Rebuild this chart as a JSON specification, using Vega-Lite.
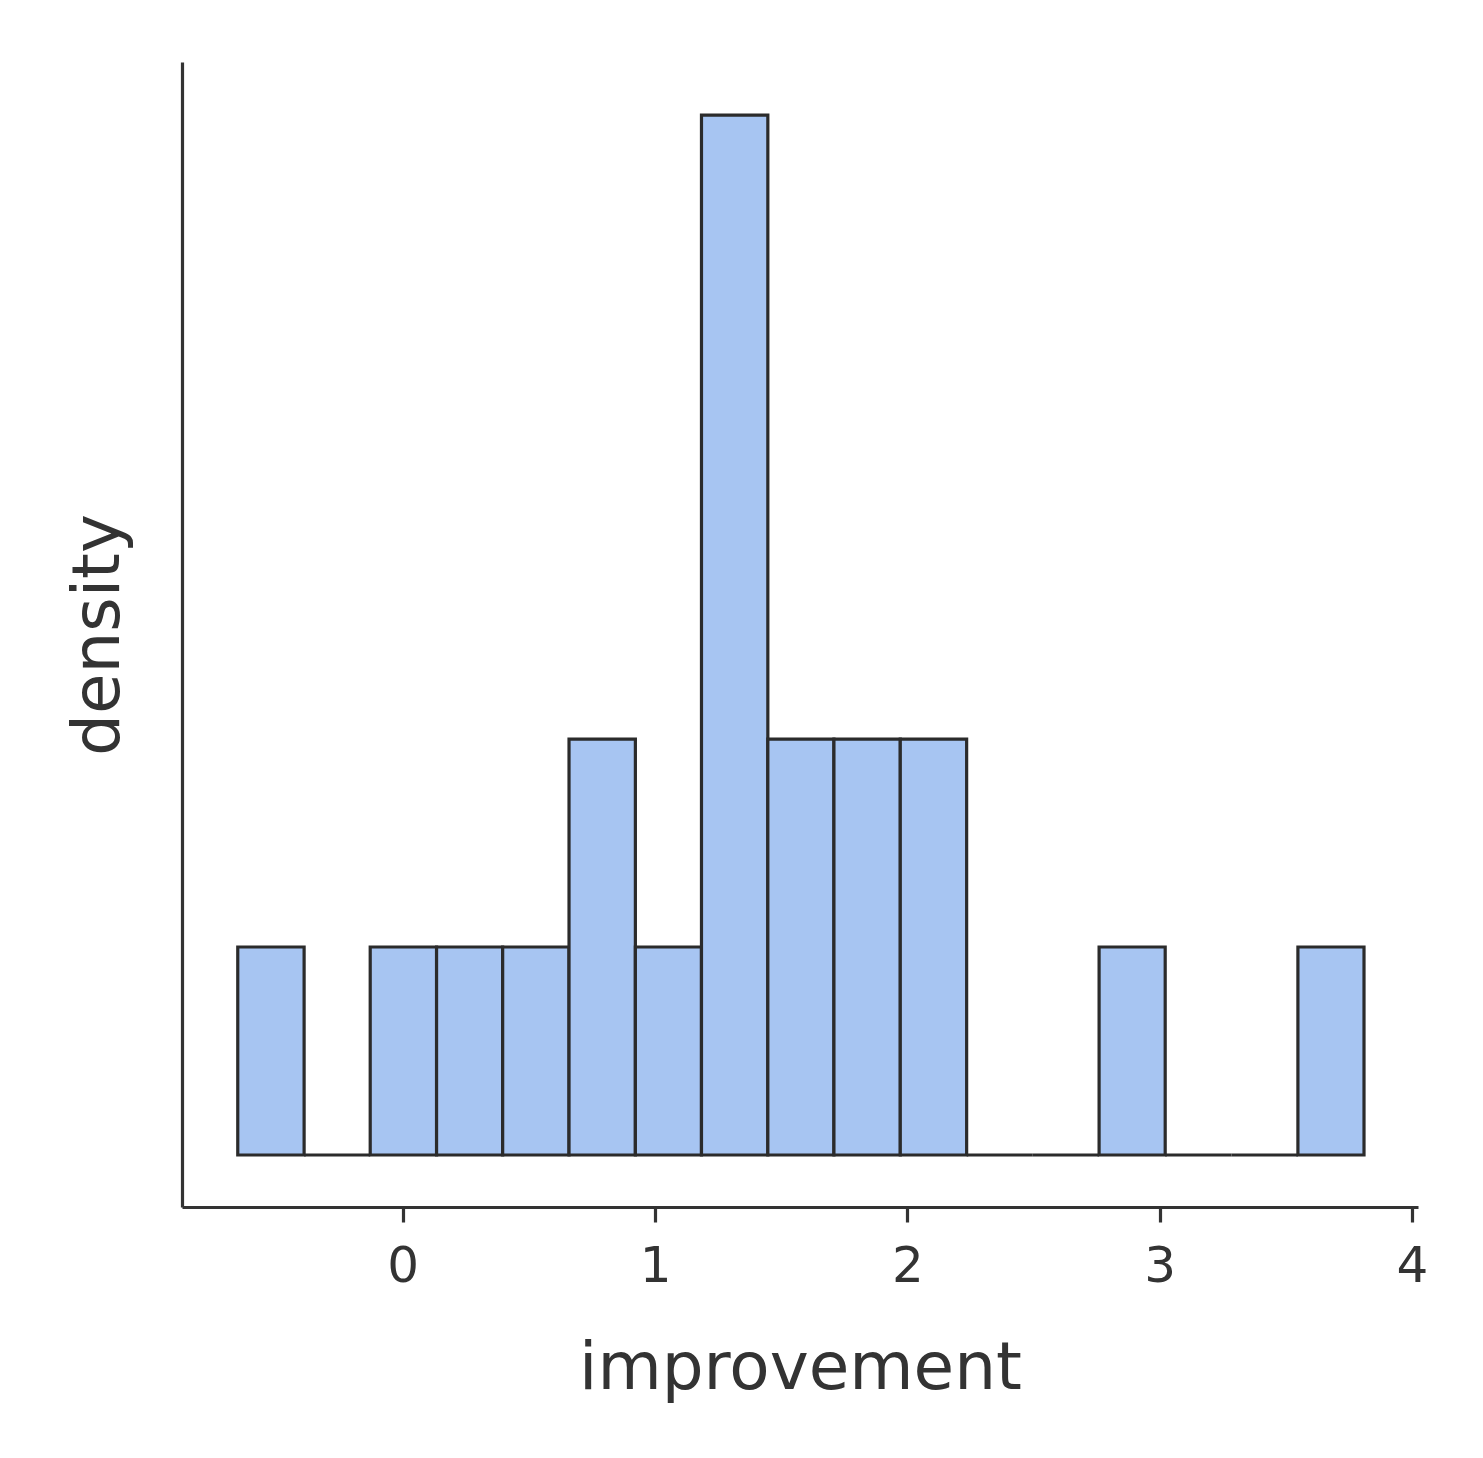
{
  "$schema": "https://vega.github.io/schema/vega-lite/v6.json",
  "width": 1236,
  "height": 1145,
  "autosize": {"type": "none"},
  "padding": {"left": 182, "top": 62, "right": 65, "bottom": 251},
  "background": "white",
  "config": {"view": {"stroke": null}, "font": "DejaVu Sans"},
  "data": {
    "values": [
      {"bin_start": -0.654, "bin_end": -0.391, "density": 0.1904},
      {"bin_start": -0.391, "bin_end": -0.129, "density": 0},
      {"bin_start": -0.129, "bin_end": 0.134, "density": 0.1904},
      {"bin_start": 0.134, "bin_end": 0.396, "density": 0.1904},
      {"bin_start": 0.396, "bin_end": 0.659, "density": 0.1904},
      {"bin_start": 0.659, "bin_end": 0.922, "density": 0.3808},
      {"bin_start": 0.922, "bin_end": 1.184, "density": 0.1904},
      {"bin_start": 1.184, "bin_end": 1.447, "density": 0.952},
      {"bin_start": 1.447, "bin_end": 1.709, "density": 0.3808},
      {"bin_start": 1.709, "bin_end": 1.972, "density": 0.3808},
      {"bin_start": 1.972, "bin_end": 2.235, "density": 0.3808},
      {"bin_start": 2.235, "bin_end": 2.497, "density": 0},
      {"bin_start": 2.497, "bin_end": 2.76, "density": 0},
      {"bin_start": 2.76, "bin_end": 3.022, "density": 0.1904},
      {"bin_start": 3.022, "bin_end": 3.285, "density": 0},
      {"bin_start": 3.285, "bin_end": 3.548, "density": 0},
      {"bin_start": 3.548, "bin_end": 3.81, "density": 0.1904}
    ]
  },
  "mark": {"type": "bar", "fill": "#a7c5f2", "stroke": "#2b2b2b", "strokeWidth": 3.2, "strokeJoin": "miter"},
  "encoding": {
    "x": {
      "field": "bin_start",
      "type": "quantitative",
      "scale": {"domain": [-0.875, 4.024], "nice": false, "zero": false},
      "axis": {
        "title": "improvement",
        "values": [0, 1, 2, 3, 4],
        "grid": false,
        "domainColor": "#333333",
        "domainWidth": 3.2,
        "tickColor": "#333333",
        "tickWidth": 3.2,
        "tickSize": 15,
        "labelFontSize": 50,
        "labelColor": "#333333",
        "labelPadding": 19,
        "labelFlush": false,
        "titleFontSize": 66,
        "titleFontWeight": "normal",
        "titleColor": "#333333",
        "titleBaseline": "alphabetic",
        "titleY": 181
      }
    },
    "x2": {"field": "bin_end"},
    "y": {
      "field": "density",
      "type": "quantitative",
      "scale": {"domain": [-0.0476, 1.0006], "nice": false, "zero": false},
      "axis": {
        "title": "density",
        "ticks": false,
        "labels": false,
        "grid": false,
        "domainColor": "#333333",
        "domainWidth": 3.2,
        "titleFontSize": 66,
        "titleFontWeight": "normal",
        "titleColor": "#333333",
        "titleBaseline": "alphabetic",
        "titleX": -64
      }
    },
    "y2": {"datum": 0}
  }
}
